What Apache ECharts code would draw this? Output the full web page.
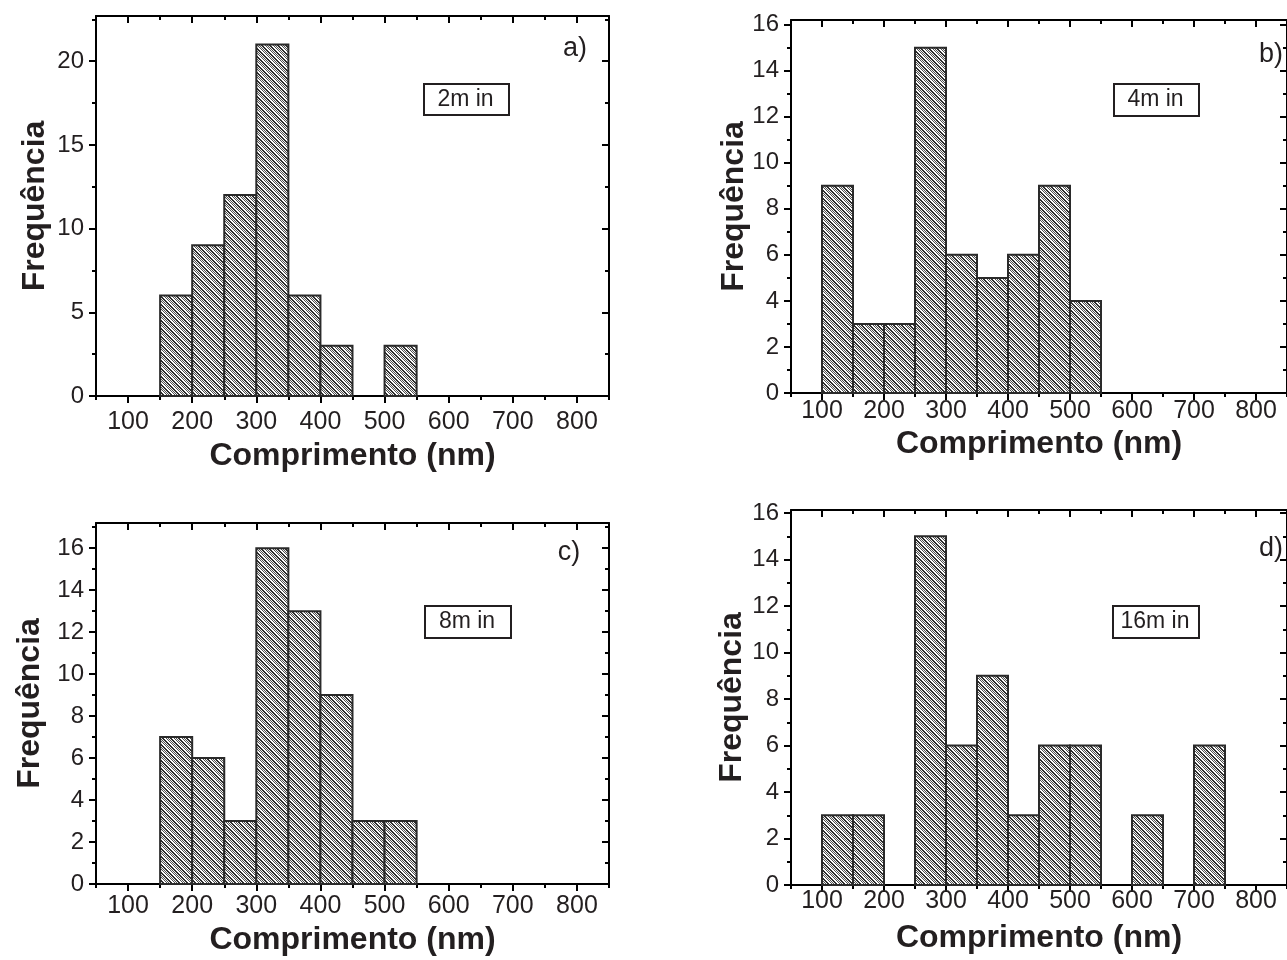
<!DOCTYPE html>
<html>
<head>
<meta charset="utf-8">
<script src="https://cdn.jsdelivr.net/npm/echarts@6/dist/echarts.min.js"></script>
<style>
html,body{margin:0;padding:0;background:#fff;}
#c{width:1287px;height:960px;}
</style>
</head>
<body>
<div id="c"></div>
<script>
// ---- data ----
const binStartA = [150, 200, 250, 300, 350, 400, 450, 500];
const countA    = [6, 9, 12, 21, 6, 3, 0, 3];
const binStartB = [100, 150, 200, 250, 300, 350, 400, 450, 500];
const countB    = [9, 3, 3, 15, 6, 5, 6, 9, 4];
const binStartC = [150, 200, 250, 300, 350, 400, 450, 500];
const countC    = [7, 6, 3, 16, 13, 9, 3, 3];
const binStartD = [100, 150, 200, 250, 300, 350, 400, 450, 500, 550, 600, 650, 700];
const countD    = [3, 3, 0, 15, 6, 9, 3, 6, 6, 0, 3, 0, 6];
const binWidth = 50;

const xMajorTicks = [100, 200, 300, 400, 500, 600, 700, 800];
const xMinorTicks = [50, 150, 250, 350, 450, 550, 650, 750, 850];
const yMajorTicksA = [0, 5, 10, 15, 20];
const yMinorTicksA = [2.5, 7.5, 12.5, 17.5, 22.5];
const yMajorTicksB = [0, 2, 4, 6, 8, 10, 12, 14, 16];
const yMinorTicksB = [1, 3, 5, 7, 9, 11, 13, 15];
const yMajorTicksC = [0, 2, 4, 6, 8, 10, 12, 14, 16];
const yMinorTicksC = [1, 3, 5, 7, 9, 11, 13, 15, 17];
const yMajorTicksD = [0, 2, 4, 6, 8, 10, 12, 14, 16];
const yMinorTicksD = [1, 3, 5, 7, 9, 11, 13, 15];

const panelLetters = ['a)', 'b)', 'c)', 'd)'];
const panelTimes = ['2m in', '4m in', '8m in', '16m in'];
const xTitle = 'Comprimento (nm)';
const yTitle = 'Frequência';
const xRange = [50, 850];
const yMaxes = [22.7, 16.2, 17.2, 16.13];

// ---- layout ----
const grids = [
  {left: 96,  top: 16,  width: 513, height: 380},
  {left: 791, top: 20,  width: 502, height: 373},
  {left: 96,  top: 523, width: 513, height: 361},
  {left: 791, top: 510, width: 502, height: 375}
];
const nameGapsX = [44, 35, 40, 37];
const nameGapsY = [45, 41, 50, 43];
const xLabelMargins = [14, 6, 10, 4];
const FONT = '"Liberation Sans", Arial, sans-serif';
const TXT = '#231f20';

// hatch pattern
function makePattern() {
  const n = 8;
  const cv = document.createElement('canvas');
  cv.width = n; cv.height = n;
  const ctx = cv.getContext('2d');
  const img = ctx.createImageData(n, n);
  for (let y = 0; y < n; y++) {
    for (let x = 0; x < n; x++) {
      const d = ((x - y) % n + n) % n;
      let v;
      if (d < 2) v = 45;
      else if (d < 4) v = 255;
      else v = ((x + y) % 2 === 0) ? 80 : 240;
      const i = (y * n + x) * 4;
      img.data[i] = v; img.data[i + 1] = v; img.data[i + 2] = v; img.data[i + 3] = 255;
    }
  }
  ctx.putImageData(img, 0, 0);
  return cv;
}
const pattern = {image: makePattern(), repeat: 'repeat'};

const panels = [
  {starts: binStartA, counts: countA, yMaj: yMajorTicksA, yMin: yMinorTicksA},
  {starts: binStartB, counts: countB, yMaj: yMajorTicksB, yMin: yMinorTicksB},
  {starts: binStartC, counts: countC, yMaj: yMajorTicksC, yMin: yMinorTicksC},
  {starts: binStartD, counts: countD, yMaj: yMajorTicksD, yMin: yMinorTicksD}
];

const lineStyle = {color: '#000', width: 2};
const xAxes = [], yAxes = [], series = [], gridOpts = [];

panels.forEach((p, g) => {
  gridOpts.push(Object.assign({containLabel: false}, grids[g]));
  const base = xAxes.length;
  xAxes.push({
    type: 'value', gridIndex: g, position: 'bottom', min: xRange[0], max: xRange[1],
    name: xTitle, nameLocation: 'middle', nameGap: nameGapsX[g], nameMoveOverlap: false,
    nameTextStyle: {fontFamily: FONT, fontWeight: 'bold', fontSize: 32, color: TXT},
    axisLine: {show: true, onZero: false, lineStyle},
    axisTick: {show: true, length: 7, lineStyle, customValues: xMajorTicks},
    axisLabel: {show: true, customValues: xMajorTicks, margin: xLabelMargins[g], fontFamily: FONT, fontSize: 25, color: TXT},
    splitLine: {show: false}
  });
  xAxes.push({
    type: 'value', gridIndex: g, position: 'bottom', min: xRange[0], max: xRange[1],
    axisLine: {show: false, onZero: false},
    axisTick: {show: true, length: 4, lineStyle, customValues: xMinorTicks},
    axisLabel: {show: false}, splitLine: {show: false}
  });
  xAxes.push({
    type: 'value', gridIndex: g, position: 'top', min: xRange[0], max: xRange[1],
    axisLine: {show: true, onZero: false, lineStyle},
    axisTick: {show: true, inside: true, length: 7, lineStyle, customValues: xMajorTicks},
    axisLabel: {show: false}, splitLine: {show: false}
  });
  xAxes.push({
    type: 'value', gridIndex: g, position: 'top', min: xRange[0], max: xRange[1],
    axisLine: {show: false, onZero: false},
    axisTick: {show: true, inside: true, length: 4, lineStyle, customValues: xMinorTicks},
    axisLabel: {show: false}, splitLine: {show: false}
  });
  const ybase = yAxes.length;
  yAxes.push({
    type: 'value', gridIndex: g, position: 'left', min: 0, max: yMaxes[g],
    name: yTitle, nameLocation: 'middle', nameGap: nameGapsY[g], nameMoveOverlap: false,
    nameTextStyle: {fontFamily: FONT, fontWeight: 'bold', fontSize: 32, color: TXT},
    axisLine: {show: true, onZero: false, lineStyle},
    axisTick: {show: true, length: 7, lineStyle, customValues: p.yMaj},
    axisLabel: {show: true, customValues: p.yMaj, margin: 12, fontFamily: FONT, fontSize: 24, color: TXT},
    splitLine: {show: false}
  });
  yAxes.push({
    type: 'value', gridIndex: g, position: 'left', min: 0, max: yMaxes[g],
    axisLine: {show: false, onZero: false},
    axisTick: {show: true, length: 4, lineStyle, customValues: p.yMin},
    axisLabel: {show: false}, splitLine: {show: false}
  });
  yAxes.push({
    type: 'value', gridIndex: g, position: 'right', min: 0, max: yMaxes[g],
    axisLine: {show: true, onZero: false, lineStyle},
    axisTick: {show: true, inside: true, length: 7, lineStyle, customValues: p.yMaj},
    axisLabel: {show: false}, splitLine: {show: false}
  });
  yAxes.push({
    type: 'value', gridIndex: g, position: 'right', min: 0, max: yMaxes[g],
    axisLine: {show: false, onZero: false},
    axisTick: {show: true, inside: true, length: 4, lineStyle, customValues: p.yMin},
    axisLabel: {show: false}, splitLine: {show: false}
  });

  const data = p.starts.map((s, i) => [s, s + binWidth, p.counts[i]]);
  series.push({
    type: 'custom', xAxisIndex: base, yAxisIndex: ybase,
    data: data, clip: false, silent: true, z: 1,
    renderItem: function (params, api) {
      const v = api.value(2);
      if (!v) return null;
      const p0 = api.coord([api.value(0), v]);
      const p1 = api.coord([api.value(1), 0]);
      return {
        type: 'rect',
        shape: {x: p0[0], y: p0[1], width: p1[0] - p0[0], height: p1[1] - p0[1]},
        style: {fill: pattern, stroke: '#2a2a2a', lineWidth: 2}
      };
    }
  });
});

// annotation boxes and panel letters
const boxes = [
  {x: 423, y: 83, w: 85, h: 31},
  {x: 1113, y: 83, w: 85, h: 32},
  {x: 424, y: 605, w: 86, h: 32},
  {x: 1112, y: 605, w: 86, h: 32}
];
const letterPos = [[575, 49], [1271, 55], [569, 553], [1271, 549]];
const graphics = [];
boxes.forEach((b, i) => {
  graphics.push({
    type: 'rect', left: b.x, top: b.y,
    shape: {width: b.w, height: b.h},
    style: {fill: '#fff', stroke: TXT, lineWidth: 2}
  });
  graphics.push({
    type: 'text', x: b.x + b.w / 2, y: b.y + b.h / 2 + 1,
    style: {text: panelTimes[i], font: '23px ' + FONT, fill: TXT, align: 'center', verticalAlign: 'middle'}
  });
  graphics.push({
    type: 'text', x: letterPos[i][0], y: letterPos[i][1],
    style: {text: panelLetters[i], font: '27px ' + FONT, fill: TXT, align: 'center', verticalAlign: 'middle'}
  });
});

const chart = echarts.init(document.getElementById('c'), null, {renderer: 'canvas'});
chart.setOption({
  animation: false,
  backgroundColor: '#fff',
  grid: gridOpts,
  xAxis: xAxes,
  yAxis: yAxes,
  series: series,
  graphic: graphics
});
</script>
</body>
</html>
